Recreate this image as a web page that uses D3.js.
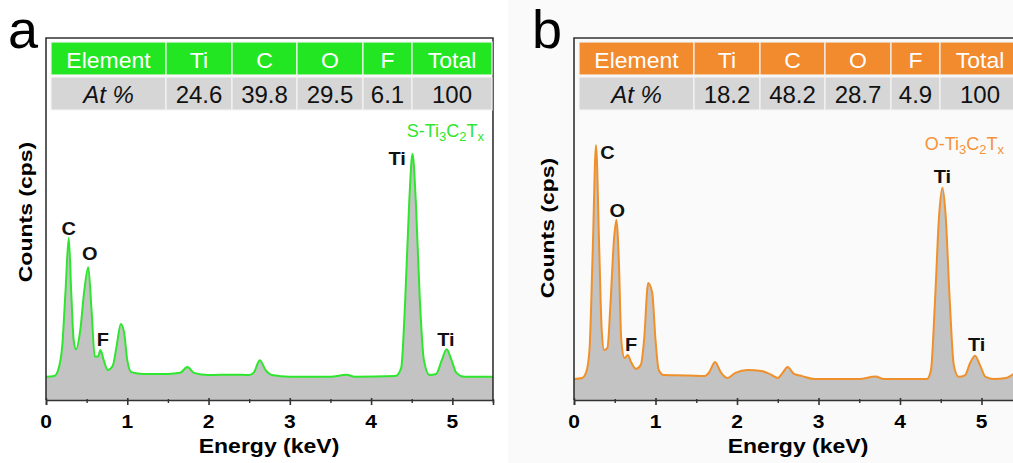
<!DOCTYPE html>
<html>
<head>
<meta charset="utf-8">
<script src="https://cdn.jsdelivr.net/npm/d3@7"></script>
<style>
  body { margin: 0; background: #fff; }
  svg { display: block; font-family: "Liberation Sans", Arial, sans-serif; }
</style>
</head>
<body>
<svg width="1013" height="463"></svg>
<script>
// EDS spectra, energy (keV) / counts (arbitrary units, 0-100)
var energyA = [0, 0.10, 0.15, 0.20, 0.24, 0.28, 0.31, 0.34, 0.37, 0.42, 0.47, 0.52, 0.56, 0.60, 0.64, 0.67, 0.71, 0.76, 0.82, 0.87,
               0.92, 0.96, 1.00, 1.05, 1.20, 1.50, 1.65, 1.74, 1.82, 2.00, 2.30, 2.50, 2.56, 2.63, 2.70, 2.78, 3.00, 3.50, 3.70, 3.80,
               4.30, 4.37, 4.42, 4.47, 4.51, 4.55, 4.60, 4.65, 4.72, 4.80, 4.87, 4.93, 4.99, 5.05, 5.15, 5.50];
var countsA = [6.4, 6.6, 8.3, 15, 30, 44.8, 30, 16.6, 14, 19, 30, 36.7, 25, 12, 12, 13.8, 11, 8.3, 9.4, 15,
               21, 18.8, 11, 7.7, 7.2, 7.2, 7.5, 9.1, 7.5, 6.9, 7, 6.9, 7.7, 11, 8.3, 6.9, 6.4, 6.4, 7, 6.4,
               6.6, 8.8, 27.6, 55, 68, 55, 27.6, 11, 6.9, 7.2, 11, 14, 11, 7.5, 6.4, 6.4];

var energyB = [0, 0.10, 0.15, 0.19, 0.23, 0.27, 0.31, 0.34, 0.37, 0.41, 0.45, 0.49, 0.52, 0.55, 0.58, 0.62, 0.66, 0.70, 0.76, 0.82,
               0.86, 0.91, 0.96, 1.00, 1.04, 1.10, 1.40, 1.60, 1.66, 1.73, 1.80, 1.88, 1.98, 2.13, 2.30, 2.40, 2.50, 2.56, 2.62, 2.70,
               2.80, 2.95, 3.50, 3.70, 3.80, 4.33, 4.38, 4.43, 4.48, 4.52, 4.56, 4.61, 4.66, 4.72, 4.80, 4.86, 4.92, 4.98, 5.05, 5.15,
               5.30, 5.40, 5.50];
var countsB = [5.8, 6.1, 7.7, 13.8, 41.4, 70.4, 41.4, 19.3, 13.8, 14.4, 27.6, 44.2, 49.7, 38.7, 16.6, 11.6, 12.4, 10.5, 8.6, 9.7,
               16.6, 32.3, 29.6, 16.6, 8.3, 6.9, 6.8, 6.6, 7.7, 10.5, 7.7, 6.1, 7.5, 8.3, 8.0, 7.2, 6.1, 7.5, 9.1, 7.2,
               6.6, 5.8, 5.8, 6.5, 5.8, 5.8, 8.3, 27.6, 51, 58.6, 51, 27.6, 9.7, 6.4, 6.9, 10.2, 12.2, 9.7, 6.4, 5.8,
               6.1, 7.2, 7.7];

// composition tables
var tableHead = ["Element", "Ti", "C", "O", "F", "Total"];
var atA = ["24.6", "39.8", "29.5", "6.1", "100"];
var atB = ["18.2", "48.2", "28.7", "4.9", "100"];

var xTicks = [0, 1, 2, 3, 4, 5];

// peak labels: [text, energy, counts]
var peaksA = [["C", 0.28, 45], ["O", 0.54, 38], ["F", 0.70, 14.5], ["Ti", 4.32, 64.5], ["Ti", 4.92, 14.5]];
var peaksB = [["C", 0.41, 66], ["O", 0.53, 50], ["F", 0.70, 13], ["Ti", 4.52, 59.5], ["Ti", 4.94, 13]];

var svg = d3.select("svg");

// panel b has a faint grey page behind it
svg.append("rect").attr("x", 508).attr("y", 0).attr("width", 505).attr("height", 463).attr("fill", "#fafafa");

// text helper, the figure's fonts are a little flattened
function label(g, x, y, txt, size, weight, anchor, sy, rot) {
    return g.append("text")
        .attr("transform", "translate(" + x + "," + y + ")" + (rot ? " rotate(" + rot + ")" : "") + " scale(1," + sy + ")")
        .attr("text-anchor", anchor)
        .attr("font-size", size)
        .attr("font-weight", weight)
        .text(txt);
}

function drawPanel(cfg) {
    var g = svg.append("g");
    var x = d3.scaleLinear().domain([0, 5.5]).range([cfg.left, cfg.left + 5.5 * cfg.kev]);
    var y = d3.scaleLinear().domain([0, 100]).range([400, 38]);
    var pts = cfg.energy.map(function(e, i) { return [e, cfg.counts[i]]; });

    // filled spectrum
    var area = d3.area()
        .x(function(d) { return x(d[0]); })
        .y0(y(0))
        .y1(function(d) { return y(d[1]); })
        .curve(d3.curveMonotoneX);
    g.append("path").datum(pts).attr("d", area).attr("fill", "#c3c3c3");

    var line = d3.line()
        .x(function(d) { return x(d[0]); })
        .y(function(d) { return y(d[1]); })
        .curve(d3.curveMonotoneX);
    g.append("path").datum(pts).attr("d", line)
        .attr("fill", "none").attr("stroke", cfg.color).attr("stroke-width", 2);

    // frame: top + right, left axis line
    var xr = x(5.5);
    g.append("path")
        .attr("d", "M" + cfg.left + ",400V38H" + xr + "V400")
        .attr("fill", "none").attr("stroke", "#333").attr("stroke-width", 1.6);

    // bottom axis
    var ax = g.append("g").attr("transform", "translate(0,400)")
        .call(d3.axisBottom(x).tickValues(xTicks).tickSize(5).tickFormat(""));
    ax.select(".domain").attr("stroke", "#333").attr("stroke-width", 1.6);
    ax.selectAll(".tick line").attr("stroke", "#333").attr("stroke-width", 1.6).attr("y1", -2);
    g.append("g").attr("transform", "translate(0,400)")
        .call(d3.axisBottom(x).tickValues(d3.range(0.5, 5.6, 1)).tickSize(3).tickFormat(""))
        .call(function(s) { s.select(".domain").remove(); })
        .selectAll(".tick line").attr("stroke", "#333").attr("stroke-width", 1.4).attr("y1", -1);

    xTicks.forEach(function(t) {
        label(g, x(t), 428, t, 21, "bold", "middle", 0.9);
    });
    label(g, cfg.xTitle, 453, "Energy (keV)", 23, "bold", "middle", 0.9);
    label(g, cfg.yTitleX, cfg.yTitleY, "Counts (cps)", 23, "bold", "middle", 0.82, -90);

    // panel letter
    label(g, cfg.letterX, 48, cfg.letter, 54, "normal", "start", 1);

    // table
    var widths = [115, 66, 65, 66, 49, 80];
    var cx = cfg.left + 5;
    var cells = [];
    widths.forEach(function(w, i) {
        cells.push({ x: cx, w: w, head: tableHead[i], val: i === 0 ? "At %" : cfg.at[i - 1] });
        cx += w;
    });
    var tb = g.append("g");
    tb.selectAll("rect.h").data(cells).enter().append("rect")
        .attr("x", function(d) { return d.x; }).attr("y", 42)
        .attr("width", function(d) { return d.w; }).attr("height", 33)
        .attr("fill", cfg.headColor).attr("stroke", "#f4f4f4").attr("stroke-width", 1.2);
    tb.selectAll("rect.v").data(cells).enter().append("rect")
        .attr("x", function(d) { return d.x; }).attr("y", 77)
        .attr("width", function(d) { return d.w; }).attr("height", 33)
        .attr("fill", "#d6d6d6").attr("stroke", "#f4f4f4").attr("stroke-width", 1.2);
    cells.forEach(function(d, i) {
        label(tb, d.x + d.w / 2, 68, d.head, 23, "normal", "middle", 0.92).attr("fill", "#fff");
        var t = label(tb, d.x + d.w / 2, 103, d.val, 24, "normal", "middle", 1).attr("fill", "#111");
        if (i === 0) t.attr("font-style", "italic");
    });

    // sample name with subscripts
    var nm = g.append("text")
        .attr("transform", "translate(" + cfg.nameX + "," + cfg.nameY + ")")
        .attr("text-anchor", "end").attr("font-size", 18).attr("fill", cfg.nameColor);
    var parts = [[cfg.prefix + "-Ti", 0], ["3", 1], ["C", 0], ["2", 1], ["T", 0], ["x", 1]];
    parts.forEach(function(p, i) {
        var prevSub = i > 0 && parts[i - 1][1];
        nm.append("tspan")
            .attr("font-size", p[1] ? 13 : 18)
            .attr("dy", p[1] ? 4 : (prevSub ? -4 : 0))
            .text(p[0]);
    });

    // peak labels
    cfg.peaks.forEach(function(p) {
        label(g, x(p[1]), y(p[2]) - 2, p[0], 20, "bold", "middle", 0.95).attr("fill", "#111");
    });
}

drawPanel({
    energy: energyA, counts: countsA, at: atA, peaks: peaksA,
    left: 46, kev: 81.27, color: "#2ee62e", headColor: "#22e622", nameColor: "#2ee62e",
    prefix: "S", nameX: 484, nameY: 137, letter: "a", letterX: 8,
    xTitle: 269, yTitleX: 32, yTitleY: 212
});
drawPanel({
    energy: energyB, counts: countsB, at: atB, peaks: peaksB,
    left: 574, kev: 81.5, color: "#f0902a", headColor: "#f28a2e", nameColor: "#f5923a",
    prefix: "O", nameX: 1004, nameY: 150, letter: "b", letterX: 532,
    xTitle: 798, yTitleX: 554, yTitleY: 228
});
</script>
</body>
</html>
